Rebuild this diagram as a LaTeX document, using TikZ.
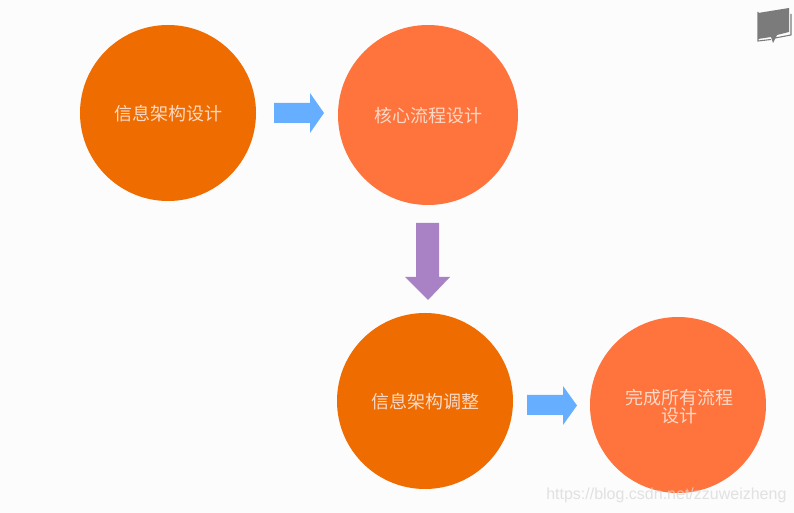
\documentclass[tikz,border=0pt]{standalone}
\usepackage{fontspec}
\setmainfont{Liberation Sans}
\newfontfamily\cjk{Noto Sans CJK SC}
\definecolor{bgc}{HTML}{FCFCFC}
\definecolor{darkor}{HTML}{EE6C00}
\definecolor{lightor}{HTML}{FF733D}
\definecolor{arrblue}{HTML}{66AEFF}
\definecolor{arrpurple}{HTML}{A982C6}
\definecolor{labelc}{HTML}{FBD9C6}
\definecolor{iconc}{HTML}{7B7B7B}
\definecolor{markc}{HTML}{D8D8D8}
\tikzset{
  px/.style={x=0.75pt,y=-0.75pt},
  bubble/.style={circle,inner sep=0pt,minimum size=#1*0.75pt},
  darkb/.style={bubble=176,fill=darkor},
  lightb/.style={bubble=#1,fill=lightor},
  lab/.style={text=labelc,font=\cjk\fontsize{13.5pt}{13.5pt}\selectfont,align=center,inner sep=0pt},
  bluearr/.style={fill=arrblue},
  purparr/.style={fill=arrpurple}
}
\begin{document}
\begin{tikzpicture}[px]
\useasboundingbox (0,0) rectangle (794,513);
\fill[bgc] (0,0) rectangle (794,513);
% circles
\node[darkb] (c1) at (168,113) {};
\node[lightb=180] (c2) at (428,115) {};
\node[darkb] (c3) at (425,401) {};
\node[lightb=176] (c4) at (678,405) {};
% labels
\node[lab] (t1) at (168,114) {信息架构设计};
\node[lab] (t2) at (428,116) {核心流程设计};
\node[lab] (t3) at (425.5,402) {信息架构调整};
\node[lab] (t4) at (679,407) {完成所有流程\\设计};
% block arrows
\fill[bluearr] (274,103) -- (310,103) -- (310,93) -- (324,113) -- (310,133) -- (310,123) -- (274,123) -- cycle;
\fill[purparr] (416,223) -- (439,223) -- (439,277) -- (450,277) -- (428,300) -- (405,277) -- (416,277) -- cycle;
\fill[bluearr] (527,395) -- (563,395) -- (563,386) -- (577,405.5) -- (563,425) -- (563,415) -- (527,415) -- cycle;
% icon
\fill[iconc] (758,13) -- (789,8) -- (789,32) -- (777,35) -- (773,43) -- (771,37) -- (758,39) -- cycle;
\draw[iconc,line width=0.8pt] (758,12) -- (758,41) -- (771,39.5);
\draw[iconc,line width=0.8pt] (775,38) -- (791,35) -- (791,14);
% watermark
\node[text=markc,opacity=0.75,font=\fontsize{12pt}{12pt}\selectfont,anchor=base west,inner sep=0pt] (wm) at (546,500) {https://blog.csdn.net/zzuweizheng};
\end{tikzpicture}
\end{document}
